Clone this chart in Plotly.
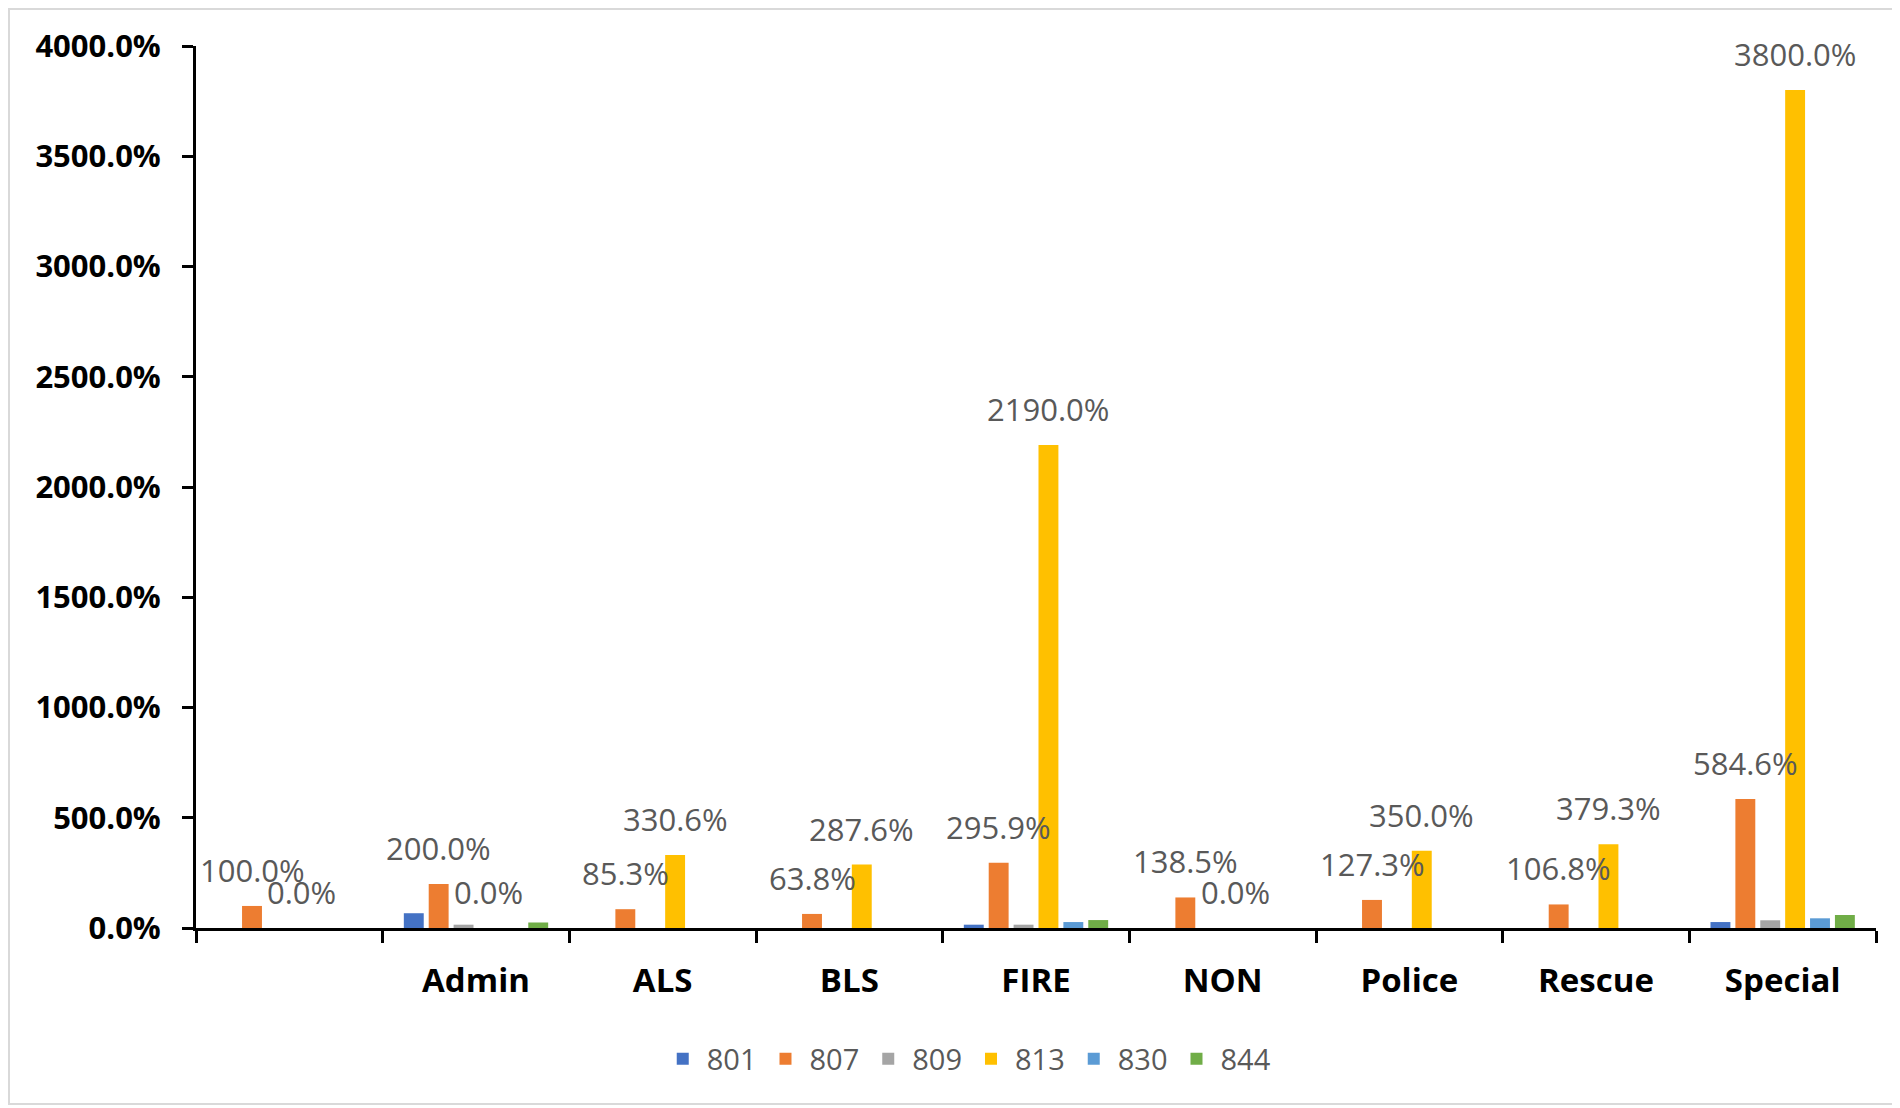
import plotly.graph_objects as go

categories = ["", "Admin", "ALS", "BLS", "FIRE", "NON", "Police", "Rescue", "Special"]
series_names = ["801", "807", "809", "813", "830", "844"]
s801 = [None, 67, None, None, 15, None, None, None, 27]
s807 = [100.0, 200.0, 85.3, 63.8, 295.9, 138.5, 127.3, 106.8, 584.6]
s809 = [None, 15, None, None, 15, None, None, None, 35]
s813 = [0.0, 0.0, 330.6, 287.6, 2190.0, 0.0, 350.0, 379.3, 3800.0]
s830 = [None, None, None, None, 27, None, None, None, 44]
s844 = [None, 25, None, None, 36, None, None, None, 59]
y_ticks = [0, 500, 1000, 1500, 2000, 2500, 3000, 3500, 4000]
y_tick_labels = [f"{v:.1f}%" for v in y_ticks]

series_values = [s801, s807, s809, s813, s830, s844]
colors = ["#4472C4", "#ED7D31", "#A5A5A5", "#FFC000", "#5B9BD5", "#70AD47"]
labelled = {"807", "813"}

# page body adds an 8px offset; compensate
OFF = 8
W, H = 1900 - OFF, 1108 - OFF
ML, MR, MT, MB = 196 - OFF, 24, 46 - OFF, 180
BARGAP, GROUPGAP = 0.2, 0.2
n = len(series_names)
slot = (1 - BARGAP) / n

xs = list(range(len(categories)))
fig = go.Figure()
annotations = []
for j, (name, vals, col) in enumerate(zip(series_names, series_values, colors)):
    fig.add_trace(go.Bar(x=xs, y=vals, name=name, marker=dict(color=col, line=dict(width=0))))
    if name in labelled:
        off = -(1 - BARGAP) / 2 + (j + 0.5) * slot
        for i, v in enumerate(vals):
            if v is None:
                continue
            annotations.append(dict(
                x=i + off, y=v, xref="x", yref="y", text=f"{v:.1f}%",
                showarrow=False, yshift=36, xanchor="center", yanchor="middle",
                font=dict(family="Open Sans", size=31, color="#595959")))

pw = W - ML - MR
ph = H - MT - MB
shapes = [dict(type="rect", xref="paper", yref="paper",
               x0=(1 - ML) / pw, x1=(1893 - OFF - ML) / pw,
               y0=(H - MB - (1104 - OFF)) / ph, y1=(H - MB - 1) / ph,
               line=dict(color="#D9D9D9", width=2), fillcolor="rgba(0,0,0,0)", layer="below")]

fig.update_layout(
    width=W, height=H,
    margin=dict(l=ML, r=MR, t=MT, b=MB, autoexpand=False),
    barmode="group", bargap=BARGAP, bargroupgap=GROUPGAP,
    plot_bgcolor="white", paper_bgcolor="white",
    annotations=annotations, shapes=shapes,
    showlegend=True,
    legend=dict(orientation="h", xref="container", yref="container",
                x=0.507, xanchor="center", y=(H - (1059 - OFF)) / H, yanchor="middle",
                font=dict(family="Open Sans", size=29, color="#595959"),
                itemwidth=38, traceorder="normal"),
    xaxis=dict(
        type="linear", range=[-0.5, len(categories) - 0.5], automargin=False,
        tickmode="array", tickvals=xs, ticktext=categories, ticks="",
        showline=True, linecolor="black", linewidth=3, showgrid=False, zeroline=False,
        ticklabelstandoff=21,
        tickfont=dict(family="Open Sans", size=33, color="black", weight="bold"),
        minor=dict(tickmode="array", tickvals=[i - 0.5 for i in range(len(categories) + 1)],
                   ticks="outside", ticklen=12, tickwidth=3, tickcolor="black", showgrid=False),
    ),
    yaxis=dict(
        range=[0, 4000], tickmode="array", tickvals=y_ticks, ticktext=y_tick_labels,
        automargin=False,
        ticks="outside", ticklen=11, tickwidth=3, tickcolor="black",
        showline=True, linecolor="black", linewidth=3, showgrid=False, zeroline=False,
        ticklabelstandoff=15,
        tickfont=dict(family="Open Sans", size=31, color="black", weight="bold"),
    ),
)

fig.write_html("out.html")
